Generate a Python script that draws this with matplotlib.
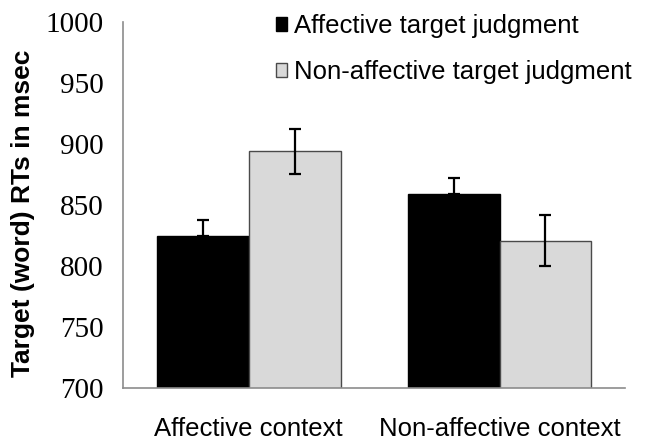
import numpy as np
import matplotlib.pyplot as plt

# data
contexts = ['Affective context', 'Non-affective context']
series = ['Affective target judgment', 'Non-affective target judgment']
affective_rt = [825, 859]
affective_err = [13, 13]
nonaffective_rt = [894, 821]
nonaffective_err = [18.5, 21]

fig = plt.figure(figsize=(6.62, 4.41), dpi=100)
ax = fig.add_axes([0.1863, 0.1195, 0.7577, 0.8305])

x = np.arange(len(contexts))
w = 0.366
ax.bar(x - w/2, affective_rt, w, color='black', edgecolor='black', linewidth=1,
       label=series[0], zorder=2)
ax.bar(x + w/2, nonaffective_rt, w, color='#d9d9d9', edgecolor='#4a4a4a', linewidth=1,
       label=series[1], zorder=2)
ax.errorbar(x - w/2, affective_rt, yerr=[[0, 0], affective_err], fmt='none',
            ecolor='black', elinewidth=1.6, capsize=4.5, capthick=1.6, zorder=3)
ax.errorbar(x + w/2, nonaffective_rt, yerr=nonaffective_err, fmt='none',
            ecolor='black', elinewidth=1.6, capsize=4.5, capthick=1.6, zorder=3)

ax.set_xlim(-0.5, 1.5)
ax.set_ylim(700, 1000)
ax.set_yticks(np.arange(700, 1001, 50))
ax.set_xticks(x)
ax.set_xticklabels(contexts, fontsize=18.5, family='Liberation Sans')
for lab in ax.get_yticklabels():
    lab.set_family('Liberation Serif')
    lab.set_fontsize(21)
ax.tick_params(axis='y', length=0, pad=14)
ax.tick_params(axis='x', length=0, pad=21)

for s in ['top', 'right']:
    ax.spines[s].set_visible(False)
for s in ['left', 'bottom']:
    ax.spines[s].set_color('#8c8c8c')
    ax.spines[s].set_linewidth(1.2)

fig.text(0.035, 0.516, 'Target (word) RTs in msec', rotation=90, va='center', ha='center',
         fontsize=19, fontweight='bold', family='Liberation Sans')

leg = ax.legend(loc='upper left', bbox_to_anchor=(0.304, 1.022), frameon=False,
                prop={'family': 'Liberation Sans', 'size': 18.5},
                handlelength=0.45, handleheight=0.45, handletextpad=0.25,
                labelspacing=0.87, borderaxespad=0, borderpad=0)

fig.savefig('out.png', dpi=100)
